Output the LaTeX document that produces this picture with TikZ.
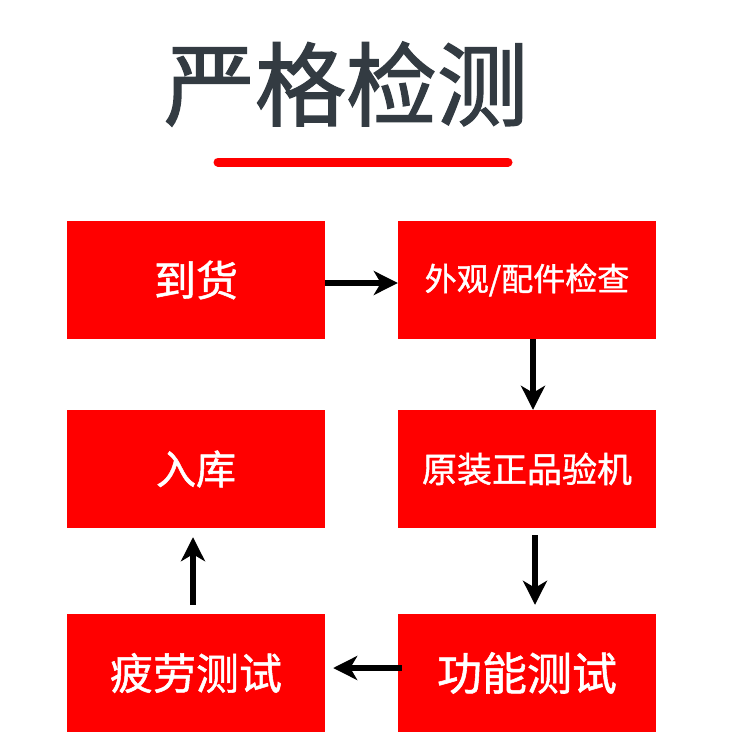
\documentclass[tikz,border=0pt]{standalone}
\usepackage{fontspec}
\usepackage{xcolor}
\usetikzlibrary{arrows.meta}
\newfontfamily\cjk[FakeBold=1.2]{Noto Sans CJK SC}
\newfontfamily\cjktitle[FakeBold=1.6]{Noto Sans CJK SC}
\definecolor{boxred}{HTML}{FF0000}
\definecolor{titlegray}{HTML}{333B42}

\begin{document}
\begin{tikzpicture}[x=1pt,y=-1pt,
 box/.style={fill=boxred,minimum width=258pt,minimum height=118pt,inner sep=0pt,text=white},
 a/.style={-{Stealth[length=24pt,width=24pt,inset=7pt]},line width=6pt}]
 \useasboundingbox (0,0) rectangle (750,755);
 \node[font=\cjktitle\fontsize{91}{91}\selectfont,text=titlegray] (title) at (346,84) {严格检测};
 \draw[boxred,line width=9pt,line cap=round] (218,162) -- (508,162);
 \node[box,font=\cjk\fontsize{42}{42}\selectfont] (arrive) at (196,280) {到货};
 \node[box,font=\cjk\fontsize{32}{32}\selectfont] (look) at (527,280) {外观/配件检查};
 \node[box,font=\cjk\fontsize{35}{35}\selectfont] (genuine) at (527,469) {原装正品验机};
 \node[box,font=\cjk\fontsize{40}{40}\selectfont] (store) at (196,469) {入库};
 \node[box,font=\cjk\fontsize{45}{45}\selectfont] (func) at (527,673) {功能测试};
 \node[box,font=\cjk\fontsize{43}{43}\selectfont] (fatigue) at (196,673) {疲劳测试};
 \draw[a] ([yshift=-3pt]arrive.east) -- ([yshift=-3pt]look.west);
 \draw[a] ([xshift=6pt]look.south) -- ([xshift=6pt]genuine.north);
 \draw[a,shorten <=7pt,shorten >=9pt] ([xshift=8pt]genuine.south) -- ([xshift=8pt]func.north);
 \draw[a,shorten <=-4pt,shorten >=8pt] ([yshift=5pt]func.west) -- ([yshift=5pt]fatigue.east);
 \draw[a,shorten <=9pt,shorten >=9pt] ([xshift=-3pt]fatigue.north) -- ([xshift=-3pt]store.south);
\end{tikzpicture}
\end{document}
